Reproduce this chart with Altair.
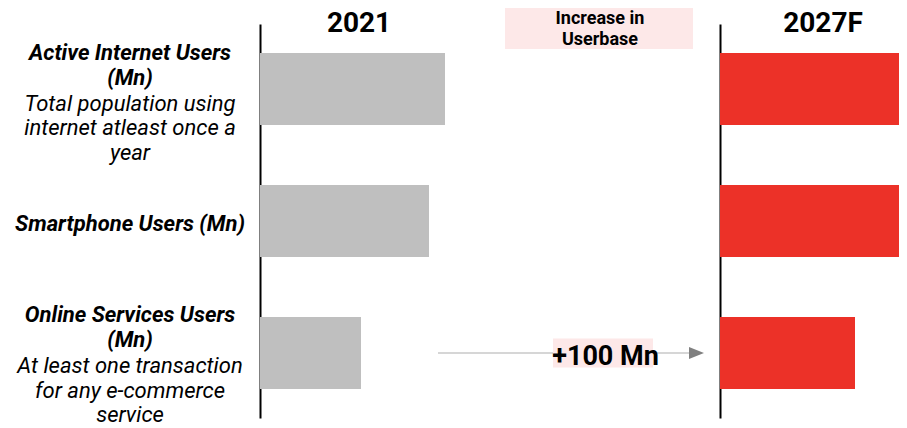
import altair as alt
import pandas as pd

# ---- data ----
rows = ["Active Internet Users (Mn)", "Smartphone Users (Mn)", "Online Services Users (Mn)"]
title_lines = ["Active Internet Users\n(Mn)", "Smartphone Users (Mn)", "Online Services Users\n(Mn)"]
desc_lines = [
    "Total population using\ninternet atleast once a\nyear",
    "",
    "At least one transaction\nfor any e-commerce\nservice",
]
users_2021 = [185, 169, 101]   # relative bar lengths (no values printed)
users_2027 = [185, 179, 135]
increase = ["", "", "+100 Mn"]
years = ["2021", "2027F"]
increase_header = "Increase in\nUserbase"

GREY = "#BFBFBF"
RED = "#EC3128"
PINK = "#FDE8E8"
FONT = "Roboto"

df = pd.DataFrame({
    "row": rows,
    "title": title_lines,
    "desc": desc_lines,
    "v2021": users_2021,
    "v2027": users_2027,
    "inc": increase,
})

scale_max = max(users_2021 + users_2027)
H = 394
yscale = alt.Scale(domain=rows, paddingInner=0.4545, paddingOuter=0.2197)
ynoax = alt.Y("row:N", scale=yscale, axis=None)

# ---- label column ----
LFS = 22
lab_base = alt.Chart(df).encode(y=ynoax)
t_with = lab_base.transform_filter("datum.desc != ''").mark_text(
    font=FONT, fontSize=LFS, fontStyle="italic", fontWeight="bold",
    baseline="alphabetic", align="center", lineBreak="\n", lineHeight=25, dy=-30
).encode(x=alt.value(122), text="title:N")
t_without = lab_base.transform_filter("datum.desc == ''").mark_text(
    font=FONT, fontSize=LFS, fontStyle="italic", fontWeight="bold",
    baseline="alphabetic", align="center", lineBreak="\n", dy=10
).encode(x=alt.value(122), text="title:N")
t_desc = lab_base.transform_filter("datum.desc != ''").mark_text(
    font=FONT, fontSize=LFS, fontStyle="italic", fontWeight="normal",
    baseline="alphabetic", align="center", lineBreak="\n", lineHeight=24.5, dy=21
).encode(x=alt.value(122), text="desc:N")
labels = alt.layer(t_with, t_without, t_desc).properties(width=252, height=H)

# ---- year panels ----
def year_panel(field, label, color, label_x, width):
    bars = alt.Chart(df).mark_bar(color=color, clip=True).encode(
        x=alt.X(f"{field}:Q", scale=alt.Scale(domain=[0, scale_max], range=[0, 185]), axis=None),
        y=alt.Y("row:N", scale=yscale,
                axis=alt.Axis(labels=False, ticks=False, title=None, grid=False,
                              domainColor="black", domainWidth=2)),
    )
    head = alt.Chart(alt.Data(values=[{"yr": label}])).mark_text(
        font=FONT, fontSize=28, fontWeight="bold", align="center",
        baseline="top", color="black"
    ).encode(text="yr:N", x=alt.value(label_x), y=alt.value(-14))
    return alt.layer(bars, head).properties(width=width, height=H)

p2021 = year_panel("v2021", years[0], GREY, 99, 185)
p2027 = year_panel("v2027", years[1], RED, 103, 179)

# ---- middle (increase) panel ----
hdr = alt.Data(values=[{"h": increase_header}])
hdr_box = alt.Chart(hdr).mark_rect(color=PINK).encode(
    x=alt.value(60), x2=alt.value(248), y=alt.value(-16), y2=alt.value(25))
hdr_txt = alt.Chart(hdr).mark_text(
    font=FONT, fontSize=18, fontWeight="bold", align="center",
    baseline="top", lineBreak="\n", lineHeight=21, color="black"
).encode(text="h:N", x=alt.value(155), y=alt.value(-14))

inc_base = alt.Chart(df).transform_filter("datum.inc != ''").encode(y=ynoax)
arrow = inc_base.mark_rule(color="#C8C8C8", strokeWidth=1.5).encode(
    x=alt.value(-7), x2=alt.value(245))
inc_box = inc_base.mark_bar(color=PINK, size=29).encode(
    x=alt.value(108), x2=alt.value(208))
inc_txt = inc_base.mark_text(
    font=FONT, fontSize=27, fontWeight="bold", align="center",
    baseline="alphabetic", dy=12, color="black"
).encode(text="inc:N", x=alt.value(160.5))
head = inc_base.mark_point(
    shape="M-1,-0.8L1,0L-1,0.8Z", filled=True, size=225,
    color="#808080", opacity=1
).encode(x=alt.value(251.5))
middle = alt.layer(hdr_box, hdr_txt, arrow, inc_box, inc_txt, head).properties(width=275, height=H)

chart = alt.hconcat(
    labels, p2021, middle, p2027, spacing=0, bounds="flush", padding=0
).configure_view(stroke=None)

chart.save("out.html", embed_options={"renderer": "svg", "actions": False})
